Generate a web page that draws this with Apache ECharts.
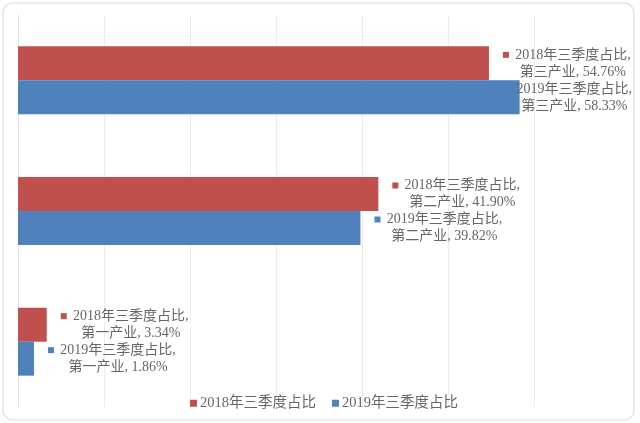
<!DOCTYPE html>
<html><head><meta charset="utf-8">
<script src="https://cdn.jsdelivr.net/npm/echarts@6/dist/echarts.min.js"></script>
<style>html,body{margin:0;padding:0;background:#fff;}#c{width:640px;height:423px;}</style>
</head><body><div id="c"></div>
<script>
const categories = ['第三产业', '第二产业', '第一产业'];
const seriesNames = ['2018年三季度占比', '2019年三季度占比'];
const values2018 = [54.76, 41.90, 3.34];
const values2019 = [58.33, 39.82, 1.86];
const colors = ['#C0504D', '#4F81BD'];
const FONT = "'Liberation Serif', 'Noto Sans CJK SC', serif";
const TEXT = '#666666';

function makeLabel(color) {
  return {
    show: true,
    position: 'right',
    distance: 14,
    fontFamily: FONT,
    fontSize: 14,
    color: TEXT,
    lineHeight: 17,
    formatter: p => '{m|}{g|}{t|' + p.seriesName + ',}\n{g2|}{t|' + p.name + ', ' + p.value.toFixed(2) + '%}',
    rich: {
      m: { width: 6, height: 6, backgroundColor: color },
      g: { width: 7 },
      g2: { width: 13 },
      t: { width: 114, align: 'center', fontFamily: FONT, fontSize: 14, color: TEXT, lineHeight: 17 }
    }
  };
}

const chart = echarts.init(document.getElementById('c'));
chart.setOption({
  backgroundColor: '#fff',
  animation: false,
  graphic: [{
    type: 'rect', silent: true, z: -10,
    shape: { x: 3, y: 3, width: 631, height: 417, r: 10 },
    style: { fill: 'none', stroke: '#dcdcdc', lineWidth: 1.2 }
  }],
  grid: { left: 18, right: 20, top: 15, bottom: 16 },
  legend: {
    data: seriesNames,
    top: 391,
    left: 185,
    icon: 'rect',
    itemWidth: 7, itemHeight: 7, itemGap: 16,
    textStyle: { fontFamily: FONT, fontSize: 14.5, color: TEXT, padding: [0, 0, 0, -2] }
  },
  xAxis: {
    type: 'value', min: 0, max: 70, interval: 10,
    axisLabel: { show: false }, axisTick: { show: false }, axisLine: { show: false },
    splitLine: { show: true, showMaxLine: false, lineStyle: { color: '#ececec', width: 1 } }
  },
  yAxis: {
    type: 'category', data: categories, inverse: true,
    axisLabel: { show: false }, axisTick: { show: false },
    axisLine: { show: true, lineStyle: { color: '#e4e4e4' } }
  },
  series: [
    { name: seriesNames[0], type: 'bar', data: values2018, barWidth: 34, barGap: '0%',
      itemStyle: { color: colors[0] }, label: makeLabel(colors[0]) },
    { name: seriesNames[1], type: 'bar', data: values2019, barWidth: 34, barGap: '0%',
      itemStyle: { color: colors[1] }, label: makeLabel(colors[1]) }
  ],
  labelLayout: function (params) {
    const r = params.labelRect;
    const limit = 632;
    if (r.x + r.width > limit) {
      return { x: limit - r.width, y: r.y + r.height / 2, align: 'left', verticalAlign: 'middle' };
    }
  }
});
</script></body></html>
